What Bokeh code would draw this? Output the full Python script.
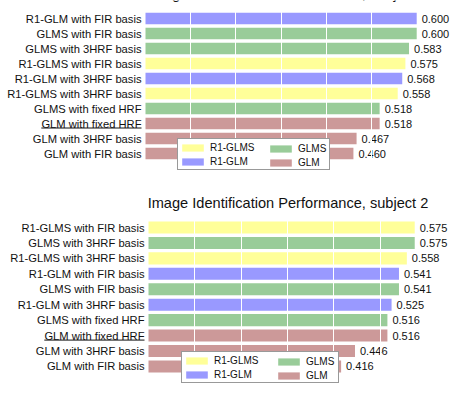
import numpy as np
from bokeh.plotting import figure
from bokeh.models import (ColumnDataSource, Range1d, FixedTicker, Label, Legend,
                          LegendItem, Grid)
from bokeh.layouts import column
from bokeh.core.properties import value
from bokeh.embed import file_html
from bokeh.resources import INLINE

# ---------------- data ----------------
top_title = "Image Identification Performance, subject 1"
top_labels = ["R1-GLM with FIR basis", "GLMS with FIR basis", "GLMS with 3HRF basis",
              "R1-GLMS with FIR basis", "R1-GLM with 3HRF basis", "R1-GLMS with 3HRF basis",
              "GLMS with fixed HRF", "GLM with fixed HRF", "GLM with 3HRF basis",
              "GLM with FIR basis"]
top_values = [0.600, 0.600, 0.583, 0.575, 0.568, 0.558, 0.518, 0.518, 0.467, 0.460]
top_groups = ["R1-GLM", "GLMS", "GLMS", "R1-GLMS", "R1-GLM", "R1-GLMS",
              "GLMS", "GLM", "GLM", "GLM"]

bottom_title = "Image Identification Performance, subject 2"
bottom_labels = ["R1-GLMS with FIR basis", "GLMS with 3HRF basis", "R1-GLMS with 3HRF basis",
                 "R1-GLM with FIR basis", "GLMS with FIR basis", "R1-GLM with 3HRF basis",
                 "GLMS with fixed HRF", "GLM with fixed HRF", "GLM with 3HRF basis",
                 "GLM with FIR basis"]
bottom_values = [0.575, 0.575, 0.558, 0.541, 0.541, 0.525, 0.516, 0.516, 0.446, 0.416]
bottom_groups = ["R1-GLMS", "GLMS", "R1-GLMS", "R1-GLM", "GLMS", "R1-GLM",
                 "GLMS", "GLM", "GLM", "GLM"]

group_order = ["R1-GLMS", "R1-GLM", "GLMS", "GLM"]
group_colors = {"R1-GLMS": "#ffff99", "R1-GLM": "#9999ff",
                "GLMS": "#99cc99", "GLM": "#cc9999"}
grid_ticks = [0.1, 0.2, 0.3, 0.4, 0.5]
underlined_label = "GLM with fixed HRF"

# ---------------- style ----------------
W = 455
FONT = "Liberation Sans"
LABEL_SIZE = 11.2
VALUE_SIZE = 11
TITLE_SIZE = 14.6
LEGEND_SIZE = 10

ARIAL = {" ": 278, "-": 333, "1": 556, "3": 556, "G": 778, "L": 556, "M": 833,
         "S": 667, "R": 722, "H": 722, "F": 611, "I": 278, "w": 722, "i": 222,
         "t": 278, "h": 556, "f": 278, "x": 500, "e": 556, "d": 556, "b": 556,
         "a": 556, "s": 500}


def text_width(s, size):
    return sum(ARIAL.get(c, 556) for c in s) / 1000.0 * size


def make_panel(title, labels, values, groups, height, zero_px, px_per_unit, row_px,
               top_px, title_baseline_px, title_center_px, legend_x, legend_col2_x,
               legend_y, legend_label_width):
    n = len(labels)
    ys = -np.arange(n, dtype=float)
    x_start = -zero_px / px_per_unit
    x_end = (W - zero_px) / px_per_unit
    y_end = top_px / row_px
    y_start = y_end - height / row_px

    p = figure(width=W, height=height,
               x_range=Range1d(x_start, x_end), y_range=Range1d(y_start, y_end),
               output_backend="svg", toolbar_location=None,
               x_axis_location=None, y_axis_location=None, min_border=0,
               outline_line_color=None, background_fill_color="white",
               border_fill_color="white")
    p.xgrid.visible = False
    p.ygrid.visible = False

    renderers = {}
    for g in group_order:
        idx = [i for i in range(n) if groups[i] == g]
        src = ColumnDataSource(dict(y=[ys[i] for i in idx], v=[values[i] for i in idx]))
        renderers[g] = p.hbar(y="y", left=0, right="v", height=0.78, source=src,
                              fill_color=group_colors[g], line_color=None)

    grid = Grid(dimension=0, ticker=FixedTicker(ticks=grid_ticks),
                grid_line_color="white", grid_line_width=1, level="guide")
    p.add_layout(grid)

    lab_src = ColumnDataSource(dict(y=ys, label=labels, v=values,
                                    vtext=["%.3f" % v for v in values]))
    p.text(x=0, y="y", text="label", source=lab_src, text_align="right",
           text_baseline="middle", x_offset=-4, text_font=value(FONT),
           text_font_size="%.1fpx" % LABEL_SIZE, text_color="#111111")
    p.text(x="v", y="y", text="vtext", source=lab_src, text_align="left",
           text_baseline="middle", x_offset=5, text_font=value(FONT),
           text_font_size="%dpx" % VALUE_SIZE, text_color="#111111")

    # underline for the highlighted label
    if underlined_label in labels:
        i = labels.index(underlined_label)
        x1 = -4 / px_per_unit
        x0 = x1 - text_width(underlined_label, LABEL_SIZE) / px_per_unit
        yu = ys[i] - 4.5 / row_px
        p.segment(x0=[x0], x1=[x1], y0=[yu], y1=[yu], line_color="#111111",
                  line_width=1)

    p.add_layout(Label(x=(title_center_px - zero_px) / px_per_unit,
                       y=y_end - title_baseline_px / row_px,
                       text=title, text_align="center", text_baseline="alphabetic",
                       text_font=FONT, text_font_size="%.1fpx" % TITLE_SIZE,
                       text_color="#111111"))

    common = dict(padding=1, spacing=0, glyph_width=27, glyph_height=9,
                  label_standoff=4, label_height=14,
                  label_text_font=FONT, label_text_font_size="%dpx" % LEGEND_SIZE,
                  label_text_color="#111111", margin=0)
    leg1 = Legend(items=[LegendItem(label=g, renderers=[renderers[g]])
                         for g in group_order[:2]],
                  location=(legend_x, legend_y), label_width=legend_label_width,
                  border_line_color="#333333", border_line_width=1,
                  background_fill_color="white", background_fill_alpha=1.0,
                  **common)
    leg2 = Legend(items=[LegendItem(label=g, renderers=[renderers[g]])
                         for g in group_order[2:]],
                  location=(legend_col2_x, legend_y), label_width=20,
                  border_line_alpha=0, background_fill_alpha=0, **common)
    p.add_layout(leg1)
    p.add_layout(leg2)
    return p


p1 = make_panel(top_title, top_labels, top_values, top_groups, height=190,
                zero_px=145, px_per_unit=452, row_px=15.0, top_px=18,
                title_baseline_px=-7, title_center_px=287.5,
                legend_x=177, legend_col2_x=266, legend_y=20, legend_label_width=118)
p2 = make_panel(bottom_title, bottom_labels, bottom_values, bottom_groups, height=208,
                zero_px=148, px_per_unit=463, row_px=15.44, top_px=37,
                title_baseline_px=12, title_center_px=287.5,
                legend_x=181, legend_col2_x=274, legend_y=15, legend_label_width=123)

layout = column(p1, p2, spacing=0)
open("out.html", "w").write(file_html(layout, INLINE))
